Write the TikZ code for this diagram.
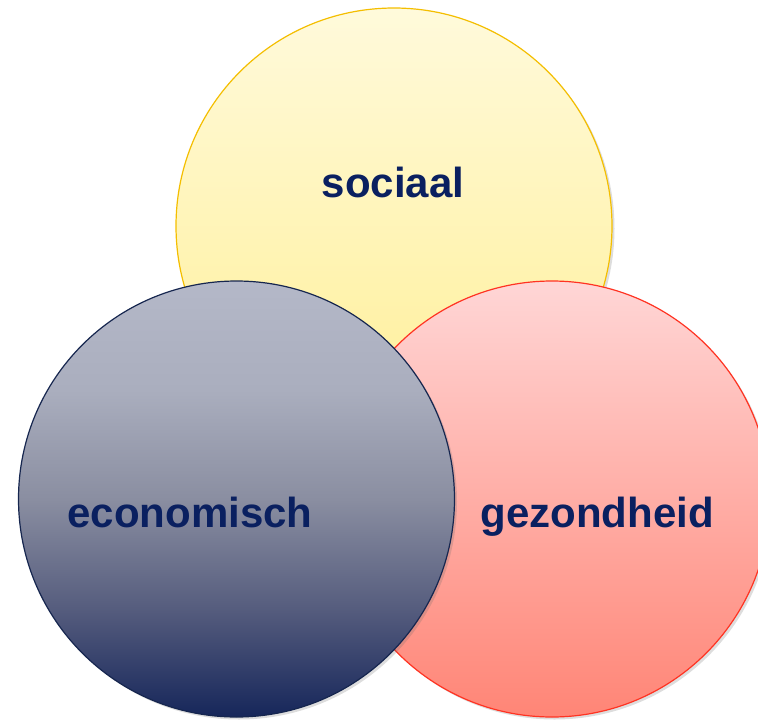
\documentclass[tikz,border=0pt]{standalone}
\usepackage{fontspec}
\setmainfont{Liberation Sans}
\usetikzlibrary{shadows}
\definecolor{navy}{HTML}{0A2060}
\definecolor{yelTop}{HTML}{FFFADB}
\definecolor{yelBot}{HTML}{FFEF96}
\definecolor{yelLine}{HTML}{F4BE00}
\definecolor{redTop}{HTML}{FFD6D6}
\definecolor{redBot}{HTML}{FF8576}
\definecolor{redLine}{HTML}{FF3322}
\definecolor{bluTop}{HTML}{B4B8C8}
\definecolor{bluQ1}{HTML}{AAAEBE}
\definecolor{bluMid}{HTML}{8A8EA1}
\definecolor{bluQ3}{HTML}{565D7E}
\definecolor{bluBot}{HTML}{16265A}
\definecolor{bluLine}{HTML}{16264F}
\pgfdeclareverticalshading{ecoshade}{100bp}{color(0bp)=(bluBot); color(25bp)=(bluBot); color(37.5bp)=(bluQ3); color(50bp)=(bluMid); color(62.5bp)=(bluQ1); color(75bp)=(bluTop); color(100bp)=(bluTop)}
\tikzset{
  bubble/.style={circle, minimum size=436pt, inner sep=0pt, outer sep=0pt, line width=1.2pt,
    drop shadow={shadow xshift=2.5pt, shadow yshift=-2.5pt, opacity=0.22, fill=black!60}},
  lbl/.style={anchor=base, text=navy, font=\bfseries\fontsize{42}{50}\selectfont, inner sep=0pt}
}
\begin{document}
\begin{tikzpicture}[x=1pt, y=-1pt]
\useasboundingbox (0,0) rectangle (758,721);
\node[bubble, draw=yelLine, shading=axis, top color=yelTop, bottom color=yelBot] (soc) at (394,226) {};
\node[bubble, draw=redLine, shading=axis, top color=redTop, bottom color=redBot] (gez) at (552,499) {};
\node[bubble, draw=bluLine, shading=ecoshade] (eco) at (236.5,499) {};
\node[lbl] (tsoc) at (393,197) {sociaal};
\node[lbl] (teco) at (190,527) {economisch};
\node[lbl] (tgez) at (597,527) {gezondheid};
\end{tikzpicture}
\end{document}
